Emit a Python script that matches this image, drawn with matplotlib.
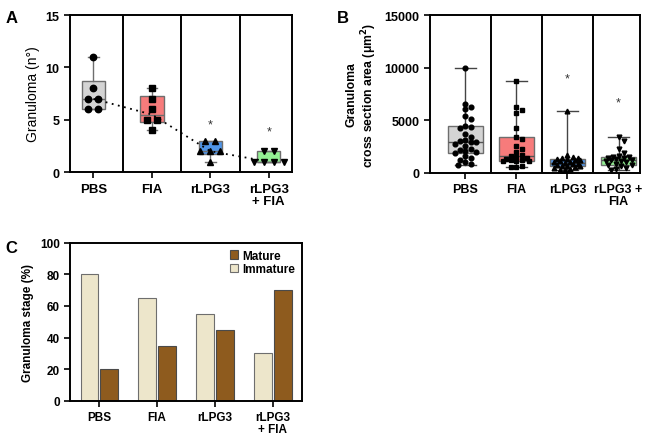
import numpy as np
import matplotlib
matplotlib.use('Agg')
import matplotlib.pyplot as plt

plt.rcParams['font.family'] = ['Liberation Sans', 'DejaVu Sans']
plt.rcParams['font.weight'] = 'bold'
plt.rcParams['axes.labelweight'] = 'bold'
plt.rcParams['axes.linewidth'] = 1.4
plt.rcParams['xtick.major.width'] = 1.2
plt.rcParams['ytick.major.width'] = 1.2
plt.rcParams['xtick.major.size'] = 4
plt.rcParams['ytick.major.size'] = 4

# ---- data ----
groups_a = ['PBS', 'FIA', 'rLPG3', 'rLPG3\n+ FIA']
groups_b = ['PBS', 'FIA', 'rLPG3', 'rLPG3 +\nFIA']
box_colors = ['#d4d4d4', '#f77b7b', '#4f95e8', '#93ef93']
markers_a = ['o', 's', '^', 'v']

# panel A: number of granulomas
pbs_a = [11, 8, 7, 7, 6, 6]
fia_a = [8, 7, 6, 5, 5, 4]
rlpg3_a = [3, 3, 2, 2, 2, 1]
rlpg3_fia_a = [2, 2, 1, 1, 1, 1]
star_a = [None, None, 4.6, 3.9]

# panel B: cross section area (um^2)
pbs_b = [10000, 6600, 6300, 6100, 5400, 5100, 4500, 4400, 4300, 3700, 3400, 3100,
         3000, 2900, 2900, 2800, 2600, 2300, 2200, 2100, 2000, 1900, 1600, 1400,
         1200, 1000, 900, 750]
fia_b = [8700, 6300, 6000, 5700, 4300, 3400, 3200, 2600, 2300, 2000, 1700, 1600,
         1500, 1400, 1300, 1250, 1200, 1150, 1100, 1100, 700, 600, 550]
rlpg3_b = [5900, 1700, 1500, 1450, 1400, 1350, 1300, 1250, 1200, 1100, 1000, 1000,
           950, 900, 850, 800, 700, 700, 650, 600, 500, 400, 300, 250]
rlpg3_fia_b = [3400, 3000, 2300, 1900, 1600, 1550, 1500, 1450, 1400, 1300, 1250,
               1200, 1150, 1100, 1000, 900, 800, 750, 700, 500, 400, 300]
star_b = [None, None, 9000, 6700]

# panel C: granuloma stage (%)
groups_c = ['PBS', 'FIA', 'rLPG3', 'rLPG3\n+ FIA']
immature = [80, 65, 55, 30]
mature = [20, 35, 45, 70]


def box_stats(vals):
    v = np.array(vals, dtype=float)
    q1, med, q3 = np.percentile(v, [25, 50, 75], method='weibull')
    return dict(med=med, q1=q1, q3=q3, whislo=v.min(), whishi=v.max(), fliers=[])


def swarm(ax, xc, vals, ms_px, max_off):
    # place points near the center, avoid overlap where possible (pixels)
    pts = ax.transData.transform([(xc, v) for v in vals])
    px_per_x = ax.transData.transform([(1, 0)])[0][0] - ax.transData.transform([(0, 0)])[0][0]
    max_px = max_off * px_per_x
    step = ms_px * 0.5
    cands = [0.0]
    k = 1
    while k * step <= max_px:
        cands += [k * step, -k * step]
        k += 1
    placed = []
    xs = []
    for (_, ypx) in pts:
        best, best_d = None, -1
        for c in cands:
            d = min([np.hypot(c - px, ypx - py) for px, py in placed] + [1e9])
            if d >= ms_px:
                best = c
                break
            if d > best_d:
                best, best_d = c, d
        placed.append((best, ypx))
        xs.append(xc + best / px_per_x)
    return xs


def spread_same(xc, vals, d):
    xs = []
    vals = list(vals)
    for i, v in enumerate(vals):
        k = vals.count(v)
        idx = [j for j, w in enumerate(vals) if w == v].index(i)
        xs.append(xc + (idx - (k - 1) / 2) * d)
    return xs


fig = plt.figure(figsize=(6.55, 4.35), dpi=100)

# ---------------- panel A ----------------
axA = fig.add_axes([0.107, 0.602, 0.339, 0.361])
data_a = [pbs_a, fia_a, rlpg3_a, rlpg3_fia_a]
axA.set_xlim(-0.4, 3.4)
axA.set_ylim(0, 15)
for i, vals in enumerate(data_a):
    axA.bxp([box_stats(vals)], positions=[i], widths=0.4, patch_artist=True,
            showfliers=False,
            boxprops=dict(facecolor=box_colors[i], edgecolor='#6e6e6e', lw=1),
            medianprops=dict(color='#6e6e6e', lw=1),
            whiskerprops=dict(color='#6e6e6e', lw=1),
            capprops=dict(color='#6e6e6e', lw=1), capwidths=0.18)
    xs = spread_same(i, vals, 0.17)
    axA.plot(xs, vals, ls='none', marker=markers_a[i], color='black', ms=4.6, zorder=4)
    if star_a[i] is not None:
        axA.text(i, star_a[i], '*', ha='center', va='center', fontsize=9,
                 fontweight='normal', color='#333333')
medians_a = [box_stats(v)['med'] for v in data_a]
axA.plot(range(4), medians_a, ls=(0, (1, 2.5)), color='black', lw=1.3, zorder=5)
for s in [0.5, 1.5, 2.5]:
    axA.axvline(s, color='black', lw=1.4)
axA.set_xticks(range(4))
axA.set_xticklabels(groups_a, fontsize=9.5, linespacing=1.0)
axA.set_yticks([0, 5, 10, 15])
axA.tick_params(axis='y', labelsize=9)
axA.set_ylabel('Granuloma (n°)', fontsize=10, fontweight='normal')

# ---------------- panel B ----------------
axB = fig.add_axes([0.656, 0.600, 0.321, 0.363])
data_b = [pbs_b, fia_b, rlpg3_b, rlpg3_fia_b]
axB.set_xlim(-0.7, 3.42)
axB.set_ylim(0, 15000)
for i, vals in enumerate(data_b):
    axB.bxp([box_stats(vals)], positions=[i], widths=0.68, patch_artist=True,
            showfliers=False,
            boxprops=dict(facecolor=box_colors[i], edgecolor='#6e6e6e', lw=1),
            medianprops=dict(color='#555555', lw=1),
            whiskerprops=dict(color='#444444', lw=1),
            capprops=dict(color='#444444', lw=1), capwidths=0.4)
    xs = swarm(axB, i, vals, 5.2, 0.3)
    axB.plot(xs, vals, ls='none', marker=markers_a[i], color='black', ms=3.4, zorder=4)
    if star_b[i] is not None:
        axB.text(i, star_b[i], '*', ha='center', va='center', fontsize=9,
                 fontweight='normal', color='#333333')
for s in [0.5, 1.5, 2.5]:
    axB.axvline(s, color='black', lw=1.4)
axB.set_xticks(range(4))
axB.set_xticklabels(groups_b, fontsize=9, linespacing=1.0)
axB.set_yticks([0, 5000, 10000, 15000])
axB.tick_params(axis='y', labelsize=9)
axB.set_ylabel('Granuloma\ncross section area (μm$^\\mathbf{2}$)', fontsize=8.8,
               linespacing=1.1)

# ---------------- panel C ----------------
axC = fig.add_axes([0.107, 0.076, 0.354, 0.364])
x = np.arange(len(groups_c))
w = 0.3
b_imm = axC.bar(x - 0.17, immature, w, color='#ede6cb', edgecolor='#6e6e6e', lw=0.8)
b_mat = axC.bar(x + 0.17, mature, w, color='#8e5b1e', edgecolor='#4a4a4a', lw=0.8)
axC.set_xlim(-0.5, 3.5)
axC.set_ylim(0, 100)
axC.set_xticks(x)
axC.set_xticklabels(groups_c, fontsize=8.5, linespacing=1.0)
axC.tick_params(axis='x', pad=3)
axC.set_yticks([0, 20, 40, 60, 80, 100])
axC.tick_params(axis='y', labelsize=8.5)
axC.set_ylabel('Granuloma stage (%)', fontsize=8.5)
axC.legend([b_mat, b_imm], ['Mature', 'Immature'], loc='upper right', frameon=False,
           fontsize=8.5, handlelength=0.7, handleheight=0.7, handletextpad=0.3,
           labelspacing=0.15, borderaxespad=0.2)

# panel letters
fig.text(0.008, 0.975, 'A', fontsize=12, fontweight='bold', va='top')
fig.text(0.515, 0.975, 'B', fontsize=12, fontweight='bold', va='top')
fig.text(0.008, 0.445, 'C', fontsize=12, fontweight='bold', va='top')

fig.savefig('out.png', dpi=100)
